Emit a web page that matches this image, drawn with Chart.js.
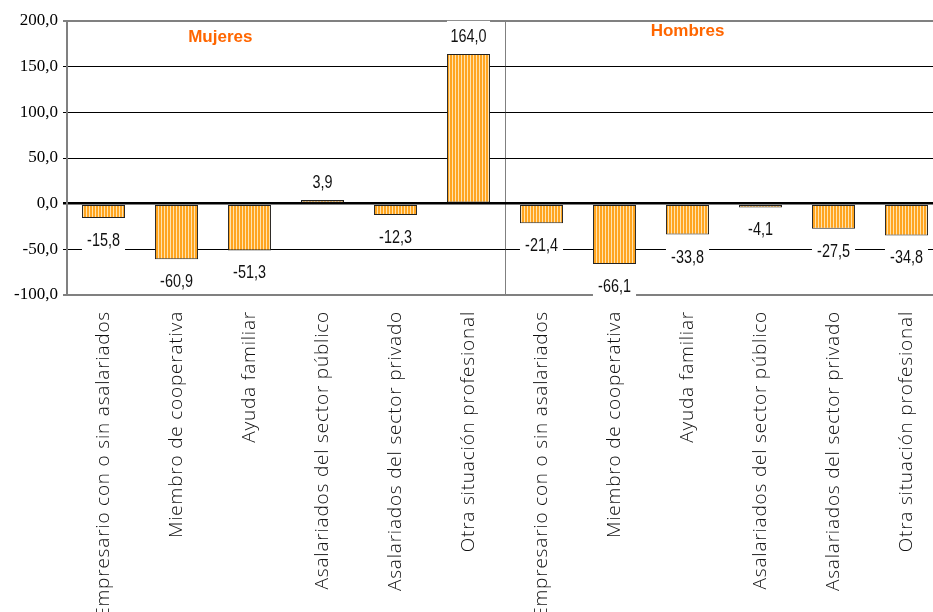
<!DOCTYPE html>
<html>
<head>
<meta charset="utf-8">
<script src="https://cdn.jsdelivr.net/npm/chart.js@4"></script>
<style>
  body { margin: 0; overflow: hidden; background: #fff; }
  #wrap { position: absolute; left: 0; top: 0; width: 950px; height: 612px; }
</style>
</head>
<body>
<div id="wrap"><canvas id="chart" width="950" height="612"></canvas></div>
<script>
var categories = [
    "Empresario con o sin asalariados", "Miembro de cooperativa", "Ayuda familiar",
    "Asalariados del sector público", "Asalariados del sector privado", "Otra situación profesional",
    "Empresario con o sin asalariados", "Miembro de cooperativa", "Ayuda familiar",
    "Asalariados del sector público", "Asalariados del sector privado", "Otra situación profesional"
];
var values = [-15.8, -60.9, -51.3, 3.9, -12.3, 164.0, -21.4, -66.1, -33.8, -4.1, -27.5, -34.8];
var groups = ["Mujeres", "Hombres"];
var yMin = -100, yMax = 200, yStep = 50;

function fmt(v) {
    return v.toFixed(1).replace(".", ",");
}

// vertical striped fill like the original
function stripes() {
    var c = document.createElement("canvas");
    c.width = 3; c.height = 3;
    var g = c.getContext("2d");
    g.fillStyle = "#FFE3AE";
    g.fillRect(0, 0, 3, 3);
    g.fillStyle = "#FFA520";
    g.fillRect(0, 0, 2, 3);
    return document.getElementById("chart").getContext("2d").createPattern(c, "repeat");
}

var valueLabels = {
    id: "valueLabels",
    afterDatasetsDraw: function(chart) {
        var ctx = chart.ctx;
        var meta = chart.getDatasetMeta(0);
        ctx.save();
        ctx.font = "18px 'Liberation Sans', Arial, sans-serif";
        ctx.textAlign = "center";
        ctx.textBaseline = "middle";
        meta.data.forEach(function(bar, i) {
            var v = values[i];
            var y = v >= 0 ? bar.y - 18 : bar.y + 22;
            ctx.fillStyle = "#fff";
            ctx.fillRect(bar.x - bar.width / 2, y - 15, bar.width, 27);
            ctx.save();
            ctx.translate(bar.x, y + 1);
            ctx.scale(0.8, 1);
            ctx.fillStyle = "#111";
            ctx.fillText(fmt(v), 0, 0);
            ctx.restore();
        });
        ctx.restore();
        // wider spacing for the category labels drawn next (x ticks layer z=1)
        ctx.letterSpacing = "0.8px";
    },
    afterDraw: function(chart) {
        var ctx = chart.ctx;
        ctx.letterSpacing = "0px";
        var area = chart.chartArea;
        var xs = chart.scales.x;
        var step = xs.getPixelForValue(1) - xs.getPixelForValue(0);
        ctx.save();
        ctx.font = "bold 17px 'Liberation Sans', Arial, sans-serif";
        ctx.fillStyle = "#FF6600";
        ctx.textAlign = "center";
        ctx.textBaseline = "middle";
        ctx.fillText(groups[0], area.left + step * 2.1, area.top + 16);
        ctx.fillText(groups[1], area.left + step * 8.5, area.top + 10);
        ctx.restore();
    }
};

new Chart(document.getElementById("chart"), {
    type: "bar",
    data: {
        labels: categories,
        datasets: [{
            data: values,
            backgroundColor: stripes(),
            borderColor: "#222",
            borderWidth: 1,
            borderSkipped: false,
            barPercentage: 0.59,
            categoryPercentage: 1
        }]
    },
    options: {
        responsive: false,
        animation: false,
        layout: { padding: { top: 21, right: 7, left: 0, bottom: 0 } },
        plugins: {
            legend: { display: false },
            tooltip: { enabled: false }
        },
        scales: {
            x: {
                offset: true,
                afterFit: function(scale) { scale.height = 612 - 295; },
                grid: {
                    offset: true,
                    drawTicks: false,
                    color: function(c) { return c.index === 6 ? "#808080" : "rgba(0,0,0,0)"; }
                },
                border: { color: "#808080", width: 2 },
                ticks: {
                    z: 1,
                    autoSkip: false,
                    maxRotation: 90,
                    minRotation: 90,
                    padding: 16,
                    color: "#111",
                    font: { family: "'Open Sans', sans-serif", size: 19, weight: 300 }
                }
            },
            y: {
                min: yMin,
                max: yMax,
                afterFit: function(scale) { scale.width = 67; },
                grid: {
                    tickLength: 4,
                    color: function(c) {
                        var v = c.tick.value;
                        return (v === yMax || v === yMin) ? "#808080" : "#000";
                    },
                    lineWidth: function(c) {
                        var v = c.tick.value;
                        return v === 0 ? 2.5 : (v === yMax || v === yMin) ? 2 : 1;
                    }
                },
                border: { color: "#808080", width: 2 },
                ticks: {
                    stepSize: yStep,
                    padding: 5,
                    color: "#000",
                    font: { family: "'Liberation Serif', 'Times New Roman', serif", size: 17 },
                    callback: function(v) { return fmt(v); }
                }
            }
        }
    },
    plugins: [valueLabels]
});
</script>
</body>
</html>
